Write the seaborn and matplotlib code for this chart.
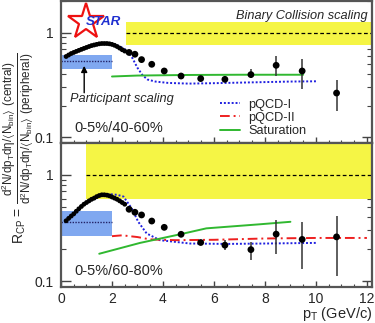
import numpy as np
import pandas as pd
import seaborn as sns
import matplotlib.pyplot as plt
from matplotlib.lines import Line2D
from matplotlib.ticker import FixedLocator, MultipleLocator, NullFormatter, FuncFormatter

sns.set_style('ticks')
plt.rcParams['font.family'] = ['Liberation Sans', 'DejaVu Sans']
plt.rcParams['mathtext.default'] = 'regular'

# low pT points (dense)
pt_lo = [0.2, 0.3, 0.4, 0.5, 0.6, 0.7, 0.8, 0.9, 1.0, 1.1, 1.2, 1.3,
         1.4, 1.5, 1.6, 1.7, 1.8, 1.9, 2.0, 2.1, 2.2, 2.3, 2.4, 2.5]
rcp_lo_top = [0.59, 0.61, 0.63, 0.645, 0.66, 0.675, 0.69, 0.705, 0.72, 0.735, 0.75, 0.76,
              0.77, 0.78, 0.785, 0.785, 0.785, 0.78, 0.77, 0.755, 0.735, 0.71, 0.685, 0.665]
rcp_lo_bot = [0.37, 0.39, 0.41, 0.43, 0.455, 0.48, 0.505, 0.53, 0.55, 0.57, 0.59, 0.605,
              0.625, 0.64, 0.65, 0.65, 0.645, 0.635, 0.62, 0.605, 0.59, 0.57, 0.55, 0.53]

# high pT points
pt_hi = [2.67, 2.90, 3.16, 3.56, 4.05, 4.71, 5.48, 6.43, 7.45, 8.44, 9.46, 10.81]
rcp_hi_top = [0.645, 0.620, 0.551, 0.497, 0.429, 0.384, 0.363, 0.357, 0.396, 0.486, 0.429, 0.264]
err_lo_top = [0.645, 0.620, 0.551, 0.497, 0.429, 0.384, 0.363, 0.345, 0.365, 0.382, 0.291, 0.177]
err_hi_top = [0.645, 0.620, 0.551, 0.497, 0.429, 0.384, 0.363, 0.372, 0.452, 0.593, 0.563, 0.350]
rcp_hi_bot = [0.475, 0.445, 0.420, 0.368, 0.321, 0.276, 0.231, 0.218, 0.198, 0.277, 0.247, 0.261]
err_lo_bot = [0.475, 0.445, 0.420, 0.368, 0.321, 0.276, 0.231, 0.195, 0.157, 0.179, 0.129, 0.111]
err_hi_bot = [0.475, 0.445, 0.420, 0.368, 0.321, 0.276, 0.231, 0.243, 0.235, 0.376, 0.362, 0.410]

# model curves
pqcd1_pt_top = [1.6, 2.0, 2.3, 2.6, 2.8, 3.0, 3.2, 3.4, 3.7, 4.2, 5.0, 6.0, 7.0, 8.0, 9.0, 10.0]
pqcd1_top = [0.78, 0.78, 0.74, 0.67, 0.57, 0.46, 0.39, 0.355, 0.34, 0.33, 0.325, 0.328, 0.332, 0.336, 0.34, 0.342]
sat_pt_top = [2.0, 3.0, 5.0, 7.0, 9.5]
sat_top = [0.38, 0.388, 0.393, 0.395, 0.395]

pqcd1_pt_bot = [1.5, 1.9, 2.2, 2.45, 2.77, 3.03, 3.36, 3.88, 5.06, 6.5, 8.0, 10.0]
pqcd1_bot = [0.645, 0.66, 0.65, 0.626, 0.486, 0.362, 0.281, 0.243, 0.226, 0.224, 0.226, 0.229]
pqcd2_pt_bot = [2.0, 2.4, 3.0, 3.5, 4.5, 6.0, 8.0, 10.0, 12.0]
pqcd2_bot = [0.265, 0.27, 0.26, 0.247, 0.243, 0.245, 0.252, 0.255, 0.255]
sat_pt_bot = [1.5, 3.1, 4.7, 5.7, 7.8, 9.0]
sat_bot = [0.181, 0.229, 0.277, 0.314, 0.343, 0.362]

# scaling bands: participant (blue) and binary collision (yellow)
part_x = [0, 2]
part_top = (0.445, 0.531, 0.616)
part_bot = (0.265, 0.363, 0.461)
bin_x_top = [2.54, 12.2]
bin_top = (0.756, 1.0, 1.25)
bin_x_bot = [0.98, 12.2]
bin_bot = (0.596, 1.0, 2.5)

BLUE_BAND = '#80a8f0'
YELLOW = '#f5f545'
C_PQCD1 = '#2020e0'
C_PQCD2 = '#ee2020'
C_SAT = '#30b830'

fig = plt.figure(figsize=(3.75, 3.23), dpi=100)
ax1 = fig.add_axes([61/375, 1-143/323, 311/375, 142/323])
ax2 = fig.add_axes([61/375, 1-287/323, 311/375, 144/323])


def panel(ax, rlo, rhi, elo, ehi, part, binx, binb):
    ax.fill_between(part_x, part[0], part[2], color=BLUE_BAND, lw=0, zorder=1)
    ax.plot(part_x, [part[1]]*2, color='#222266', ls=(0, (1, 1)), lw=1, zorder=2)
    ax.fill_between(binx, binb[0], binb[2], color=YELLOW, lw=0, zorder=1)
    ax.plot(binx, [binb[1]]*2, color='black', ls=(0, (3, 2)), lw=0.9, zorder=2)
    yerr = [np.array(rhi) - np.array(elo), np.array(ehi) - np.array(rhi)]
    ax.errorbar(pt_hi, rhi, yerr=yerr, fmt='none', ecolor='#333333', elinewidth=1.1, zorder=4)
    sns.scatterplot(x=pt_lo, y=rlo, ax=ax, s=12, color='black', edgecolor='none', zorder=5)
    sns.scatterplot(x=pt_hi, y=rhi, ax=ax, s=24, color='black', edgecolor='none', zorder=5)


panel(ax1, rcp_lo_top, rcp_hi_top, err_lo_top, err_hi_top, part_top, bin_x_top, bin_top)
panel(ax2, rcp_lo_bot, rcp_hi_bot, err_lo_bot, err_hi_bot, part_bot, bin_x_bot, bin_bot)

sns.lineplot(x=pqcd1_pt_top, y=pqcd1_top, ax=ax1, color=C_PQCD1, ls=(0, (1, 1)), lw=1.4,
             sort=False, estimator=None, zorder=3)
sns.lineplot(x=sat_pt_top, y=sat_top, ax=ax1, color=C_SAT, lw=1.4, sort=False, estimator=None, zorder=3)
sns.lineplot(x=pqcd1_pt_bot, y=pqcd1_bot, ax=ax2, color=C_PQCD1, ls=(0, (1, 1)), lw=1.4,
             sort=False, estimator=None, zorder=3)
sns.lineplot(x=pqcd2_pt_bot, y=pqcd2_bot, ax=ax2, color=C_PQCD2, ls=(0, (5, 2, 1, 2)), lw=1.4,
             sort=False, estimator=None, zorder=3)
sns.lineplot(x=sat_pt_bot, y=sat_bot, ax=ax2, color=C_SAT, lw=1.4, sort=False, estimator=None, zorder=3)

for ax in (ax1, ax2):
    ax.set_yscale('log')
    ax.set_xlim(0, 12.2)
    ax.set_ylim(0.088, 2.0)
    ax.yaxis.set_major_locator(FixedLocator([0.1, 1]))
    ax.yaxis.set_major_formatter(FuncFormatter(lambda v, p: '1' if v == 1 else '0.1'))
    ax.yaxis.set_minor_locator(FixedLocator([0.2, 0.3, 0.4, 0.5, 0.6, 0.7, 0.8, 0.9, 2]))
    ax.yaxis.set_minor_formatter(NullFormatter())
    ax.xaxis.set_major_locator(MultipleLocator(2))
    ax.xaxis.set_minor_locator(MultipleLocator(0.5))
    ax.tick_params(axis='y', which='major', direction='in', length=7, width=1, left=True, right=True,
                   labelsize=10, pad=5, color='#444444')
    ax.tick_params(axis='y', which='minor', direction='in', length=3.5, width=0.8, left=True, right=True,
                   color='#444444')
    ax.tick_params(axis='x', which='major', direction='in', length=4, width=1, labelsize=10, color='#444444')
    ax.tick_params(axis='x', which='minor', direction='in', length=2.2, width=0.8, color='#444444')
    for s in ax.spines.values():
        s.set_linewidth(1.6)
        s.set_color('#555555')
    ax.set_ylabel('')

ax1.tick_params(axis='x', labelbottom=False)
ax2.set_xlabel('$p_T$ (GeV/c)', fontsize=10.5, ha='right', va='top')
ax2.xaxis.set_label_coords(1.0, -0.125)

# STAR logo
ax1.plot([0.08], [0.855], transform=ax1.transAxes, marker='*', ms=27, mfc='white', mec='#ee1111',
         mew=1.6, clip_on=False, zorder=6)
ax1.text(0.135, 0.853, 'STAR', transform=ax1.transAxes, ha='center', va='center', fontsize=9.6,
         fontweight='bold', style='italic', color='#2030d0', zorder=7)

ax1.text(0.987, 0.896, 'Binary Collision scaling', transform=ax1.transAxes, ha='right', va='center',
         fontsize=9.2, style='italic')
ax1.text(0.029, 0.31, 'Participant scaling', transform=ax1.transAxes, ha='left', va='center',
         fontsize=9.2, style='italic')
ax1.annotate('', xy=(0.91, 0.51), xytext=(0.91, 0.25),
             arrowprops=dict(arrowstyle='-|>', color='black', lw=1, mutation_scale=9))
ax1.text(0.042, 0.108, '0-5%/40-60%', transform=ax1.transAxes, ha='left', va='center', fontsize=10.5)
ax2.text(0.042, 0.111, '0-5%/60-80%', transform=ax2.transAxes, ha='left', va='center', fontsize=10.5)

handles = [Line2D([], [], color=C_PQCD1, ls=(0, (1, 1)), lw=1.4),
           Line2D([], [], color=C_PQCD2, ls=(0, (5, 2, 1, 2)), lw=1.4),
           Line2D([], [], color=C_SAT, lw=1.4)]
ax1.legend(handles, ['pQCD-I', 'pQCD-II', 'Saturation'], loc='upper left', bbox_to_anchor=(0.511, 0.313),
           frameon=False, fontsize=9.2, handlelength=1.6, handletextpad=0.6, labelspacing=0.1,
           borderpad=0, borderaxespad=0)

# y-axis title: R_CP = fraction
fig.text(20/375, 1-225/323, r'$R_{CP}$ =', rotation=90, ha='center', va='center', fontsize=10)
fig.text(18/375, 1-128/323,
         r'$\frac{d^{2}N/dp_{T}d\eta/\langle N_{bin}\rangle\ (central)}'
         r'{d^{2}N/dp_{T}d\eta/\langle N_{bin}\rangle\ (peripheral)}$',
         rotation=90, ha='center', va='center', fontsize=12)

fig.savefig('out.png', dpi=100)
